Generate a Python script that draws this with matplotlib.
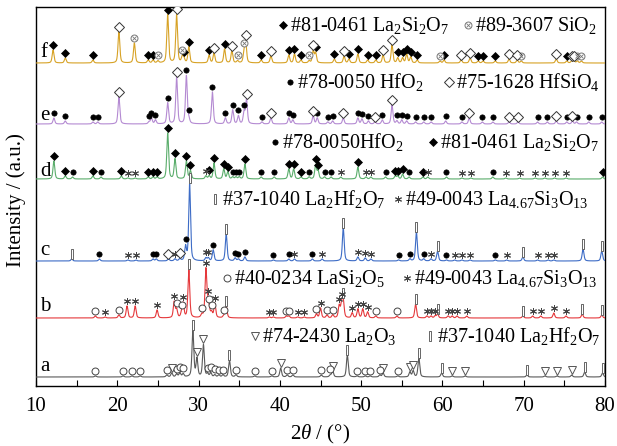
import numpy as np
import matplotlib
matplotlib.use('Agg')
import matplotlib.pyplot as plt
from matplotlib.path import Path

plt.rcParams['font.family'] = ['Liberation Serif', 'DejaVu Sans']
plt.rcParams['mathtext.fontset'] = 'custom'
plt.rcParams['mathtext.rm'] = 'Liberation Serif'
plt.rcParams['mathtext.it'] = 'Liberation Serif:italic'

# ---- peak lists (2theta, height in offset units) ----
# f
f_la2si2o7_pos = [12.1, 13.6, 17.0, 23.8, 24.4, 26.2, 28.2, 28.8, 31.3, 33.2, 37.7, 41.1, 41.8, 42.6, 44.4,
                  46.7, 48.5, 49.6, 50.8, 51.8, 54.5, 55.1, 55.6, 56.1, 56.9, 60.2, 64.4, 65.0, 66.5, 75.3]
f_la2si2o7_h = [13, 5, 3, 3, 3, 48, 4, 16, 8, 14, 3, 8, 9, 3, 10,
                4, 4, 9, 3, 3, 5, 5, 9, 6, 3, 3, 2, 2, 2, 2]
f_sio2_pos = [22.1, 25.0, 28.0, 34.8, 35.6, 43.6, 59.7, 69.7, 76.6, 77.1]
f_sio2_h = [20, 2, 6, 2, 10, 2, 2, 2, 2, 2]
f_hfsio4_pos = [20.2, 27.3, 31.9, 34.1, 35.8, 38.9, 44.1, 47.9, 52.7, 53.8, 62.3, 63.4, 68.2, 69.2, 74.0, 75.9, 76.2]
f_hfsio4_h = [31, 48, 10, 12, 20, 7, 12, 7, 8, 18, 3, 5, 4, 3, 4, 2, 2]

# e
e_hfo2_pos = [12.2, 13.6, 17.0, 17.6, 23.9, 24.2, 24.7, 26.2, 28.5, 28.8, 31.7, 33.3, 34.2, 34.9, 35.6,
              37.8, 41.1, 41.6, 44.6, 45.9, 46.5, 49.6, 50.1, 50.9, 52.6, 54.4, 55.0, 55.6, 56.7, 57.7,
              58.6, 60.4, 62.4, 64.9, 66.2, 71.7, 72.9, 75.3, 76.5, 78.0, 79.6]
e_hfo2_h = [6, 3, 2, 2, 2, 6, 4, 21, 48, 4, 32, 6, 14, 8, 12,
            2, 6, 4, 6, 2, 3, 6, 5, 3, 4, 3, 4, 3, 2, 2,
            2, 3, 2, 2, 2, 2, 2, 2, 2, 2, 2]
e_hfsio4_pos = [20.2, 27.3, 35.9, 38.9, 44.1, 47.8, 51.7, 53.8, 63.3, 68.2, 69.3, 74.0, 76.0]
e_hfsio4_h = [27, 47, 24, 6, 8, 6, 2, 19, 6, 2, 2, 3, 3]

# d
d_la2si2o7_pos = [12.2, 13.6, 17.0, 20.5, 23.8, 24.4, 24.9, 26.2, 27.1, 28.5, 29.0, 31.3, 31.9, 33.1, 33.6,
                  35.7, 41.1, 41.7, 42.6, 44.4, 44.7, 49.6, 54.2, 54.5, 55.1, 57.6, 79.7]
d_la2si2o7_h = [18, 3, 3, 3, 2, 2, 2, 46, 20, 18, 8, 3, 16, 10, 7,
                15, 10, 10, 2, 14, 8, 12, 3, 3, 5, 2, 2]
d_hfo2_pos = [14.5, 18.0, 34.2, 34.6, 35.0, 37.7, 39.3, 43.6, 45.5, 46.3, 53.0, 55.9, 60.5, 66.2]
d_hfo2_h = [2, 2, 2, 2, 2, 2, 2, 2, 2, 2, 2, 2, 2, 2]
d_la467_pos = [21.3, 22.2, 30.9, 47.5, 50.6, 51.2, 58.2, 62.4, 63.5, 67.8, 69.5, 71.4, 72.6, 73.8, 75.2]
d_la467_h = [1, 1, 3, 2, 2, 2, 2, 1, 1, 1, 1, 1, 1, 1, 1]

# c
c_la2hf2o7_pos = [14.4, 28.9, 33.4, 47.8, 56.8, 59.4, 69.9, 77.3, 79.6]
c_la2hf2o7_h = [2, 77, 27, 33, 29, 10, 4, 12, 10]
c_la467_pos = [21.3, 22.3, 27.1, 30.9, 31.2, 41.8, 45.2, 49.6, 50.5, 51.2, 58.6, 61.5, 62.4, 63.4,
               67.9, 71.7, 73.0, 73.7]
c_la467_h = [1, 1, 2, 3, 3, 2, 2, 4, 3, 2, 2, 1, 1, 1, 1, 1, 1, 1]
c_hfo2_pos = [17.8, 24.4, 24.8, 28.4, 31.8, 34.5, 34.9, 35.7, 39.2, 41.1, 44.0, 54.6, 56.0, 57.7, 60.5, 66.5]
c_hfo2_h = [2, 2, 2, 14, 11, 3, 2, 4, 1, 2, 2, 1, 2, 2, 1, 1]
c_hfsio4_pos = [26.3, 27.7]
c_hfsio4_h = [2, 2]

# b
b_la2hf2o7_pos = [28.8, 33.4, 47.8, 56.7, 59.4, 69.9, 77.2, 79.6]
b_la2hf2o7_h = [48, 12, 16, 14, 4, 2, 4, 3]
b_la467_pos = [18.5, 21.2, 22.2, 24.9, 27.0, 28.1, 30.9, 31.15, 32.0, 38.7, 39.2, 42.2, 43.0, 45.0, 47.3,
               47.6, 48.9, 49.6, 50.2, 50.8, 58.1, 58.6, 59.1, 60.7, 61.2, 61.8, 63.0, 71.1, 72.1, 73.7, 75.2]
b_la467_h = [1, 12, 12, 8, 16, 14, 48, 12, 14, 1, 1, 1, 1, 10, 12,
             14, 5, 9, 9, 6, 2, 2, 2, 2, 2, 2, 2, 2, 2, 5, 2]
b_lasi2o5_pos = [17.3, 20.2, 27.3, 27.9, 30.4, 31.3, 31.6, 33.1, 40.8, 41.1, 44.5, 45.8, 46.5, 51.8, 54.4]
b_lasi2o5_h = [2, 3, 8, 4, 3, 6, 5, 2, 2, 2, 4, 3, 3, 2, 2]

# a
a_la2hf2o7_pos = [29.3, 33.8, 48.3, 57.1, 59.9, 70.4, 77.5, 79.7]
a_la2hf2o7_h = [46, 17, 22, 19, 4, 2, 5, 4]
a_la2o3_pos = [26.7, 29.8, 30.6, 40.1, 46.5, 52.7, 56.0, 56.4, 61.2, 62.8, 72.6, 74.1, 75.9]
a_la2o3_h = [4, 18, 32, 9, 6, 4, 5, 6, 1, 1, 1, 1, 2]
a_lasi2o5_pos = [17.3, 20.7, 21.8, 22.8, 26.1, 27.3, 27.7, 28.1, 31.1, 31.5, 32.0, 32.5, 33.0, 34.6,
                 36.9, 39.0, 40.9, 41.6, 45.1, 46.2, 49.5, 50.5, 51.1, 52.3, 54.5]
a_lasi2o5_h = [1, 1, 1, 1, 2, 3, 4, 3, 3, 4, 2, 2, 2, 2, 1, 1, 2, 2, 2, 2, 1, 1, 1, 2, 1]

baselines = {'a': 9, 'b': 68, 'c': 125, 'd': 207, 'e': 262, 'f': 323}
colors = {'a': '#5a5a5a', 'b': '#e5383b', 'c': '#3d6cc6', 'd': '#5aad6b', 'e': '#b48ad2', 'f': '#d7a225'}

tt = np.linspace(10, 80, 14001)


def profile(x, p, h, w=0.13):
    lor = 1.0 / (1 + ((x - p) / w) ** 2)
    gau = np.exp(-np.log(2) * ((x - p) / w) ** 2)
    return h * (0.5 * lor + 0.5 * gau)


def pattern(base, groups):
    y = np.full_like(tt, float(base))
    for pos, hts in groups:
        for p, h in zip(pos, hts):
            y += profile(tt, p, h)
    return y


rect = Path([(-0.28, -1), (0.28, -1), (0.28, 1), (-0.28, 1), (-0.28, -1)],
            [Path.MOVETO, Path.LINETO, Path.LINETO, Path.LINETO, Path.CLOSEPOLY])

styles = {
    'la2si2o7': dict(marker='D', ms=3.6, mfc='k', mec='k', mew=0.5),
    'hfo2': dict(marker='o', ms=3.8, mfc='k', mec='k', mew=0.5),
    'hfsio4': dict(marker='D', ms=4.6, mfc='white', mec='#333333', mew=0.7),
    'sio2': dict(marker='o', ms=5, mfc='white', mec='#777777', mew=0.7),
    'la2hf2o7': dict(marker=rect, ms=7, mfc='white', mec='#666666', mew=0.7),
    'la467': dict(marker=(6, 2, 0), ms=5, mfc='#444444', mec='#444444', mew=0.7),
    'lasi2o5': dict(marker='o', ms=5, mfc='white', mec='#444444', mew=0.7),
    'la2o3': dict(marker='v', ms=6, mfc='white', mec='#555555', mew=0.7),
}


def put_marker(ax, xs, ys, kind):
    ax.plot(xs, ys, linestyle='none', zorder=4, **styles[kind])
    if kind == 'sio2':
        ax.plot(xs, ys, linestyle='none', marker='x', ms=2.6, mec='#777777', mew=0.6, zorder=5)


curves = {
    'f': [(f_la2si2o7_pos, f_la2si2o7_h, 'la2si2o7'), (f_sio2_pos, f_sio2_h, 'sio2'),
          (f_hfsio4_pos, f_hfsio4_h, 'hfsio4')],
    'e': [(e_hfo2_pos, e_hfo2_h, 'hfo2'), (e_hfsio4_pos, e_hfsio4_h, 'hfsio4')],
    'd': [(d_la2si2o7_pos, d_la2si2o7_h, 'la2si2o7'), (d_hfo2_pos, d_hfo2_h, 'hfo2'),
          (d_la467_pos, d_la467_h, 'la467')],
    'c': [(c_la2hf2o7_pos, c_la2hf2o7_h, 'la2hf2o7'), (c_la467_pos, c_la467_h, 'la467'),
          (c_hfo2_pos, c_hfo2_h, 'hfo2'), (c_hfsio4_pos, c_hfsio4_h, 'hfsio4')],
    'b': [(b_la2hf2o7_pos, b_la2hf2o7_h, 'la2hf2o7'), (b_la467_pos, b_la467_h, 'la467'),
          (b_lasi2o5_pos, b_lasi2o5_h, 'lasi2o5')],
    'a': [(a_la2hf2o7_pos, a_la2hf2o7_h, 'la2hf2o7'), (a_la2o3_pos, a_la2o3_h, 'la2o3'),
          (a_lasi2o5_pos, a_lasi2o5_h, 'lasi2o5')],
}

fig = plt.figure(figsize=(6.17, 4.46), dpi=100)
ax = fig.add_axes([36 / 617, 60 / 446, 569 / 617, 379 / 446])
ax.set_xlim(10, 80)
ax.set_ylim(0, 379)


def pix(px, py):
    return 10 + (px - 36) / 569 * 70, 386 - py


for name, groups in curves.items():
    y = pattern(baselines[name], [(g[0], g[1]) for g in groups])
    ax.plot(tt, y, color=colors[name], lw=0.8, zorder=3)
    for pos, hts, kind in groups:
        ymark = np.interp(pos, tt, y) + 5
        put_marker(ax, pos, ymark, kind)

# curve letters
letter_pos = {'f': 57, 'e': 120, 'd': 176, 'c': 255, 'b': 311, 'a': 371}
for name, py in letter_pos.items():
    ax.text(*pix(40, py), name, fontsize=15, va='baseline', ha='left', zorder=6)

# phase legends
fs = 14.5
legends = [
    (31, [(283, 'la2si2o7', '#81-0461 La$_2$Si$_2$O$_7$'), (468, 'sio2', '#89-3607 SiO$_2$')]),
    (88, [(290, 'hfo2', '#78-0050 HfO$_2$'), (449, 'hfsio4', '#75-1628 HfSiO$_4$')]),
    (148, [(275, 'hfo2', '#78-0050HfO$_2$'), (433, 'la2si2o7', '#81-0461 La$_2$Si$_2$O$_7$')]),
    (205, [(215, 'la2hf2o7', '#37-1040 La$_2$Hf$_2$O$_7$'), (398, 'la467', '#49-0043 La$_{4.67}$Si$_3$O$_{13}$')]),
    (284, [(227, 'lasi2o5', '#40-0234 LaSi$_2$O$_5$'), (407, 'la467', '#49-0043 La$_{4.67}$Si$_3$O$_{13}$')]),
    (342, [(255, 'la2o3', '#74-2430 La$_2$O$_3$'), (430, 'la2hf2o7', '#37-1040 La$_2$Hf$_2$O$_7$')]),
]
for base_py, items in legends:
    for mx, kind, label in items:
        put_marker(ax, [pix(mx, 0)[0]], [386 - (base_py - 6)], kind)
        ax.text(*pix(mx + 7, base_py), label, fontsize=fs, va='baseline', ha='left', zorder=6)

ax.set_yticks([])
ax.set_xticks(np.arange(10, 81, 10))
ax.set_xticks(np.arange(15, 80, 10), minor=True)
ax.tick_params(axis='x', which='both', direction='in', length=4, width=0.8, labelsize=15, pad=8)
for s in ax.spines.values():
    s.set_linewidth(1.0)

ax.set_xlabel(r'$2\theta$ / (°)', fontsize=15, labelpad=5)
ax.set_ylabel('Intensity / (a.u.)', fontsize=15)
ax.yaxis.set_label_coords(-0.017, 0.491)

fig.savefig('out.png', dpi=100)
